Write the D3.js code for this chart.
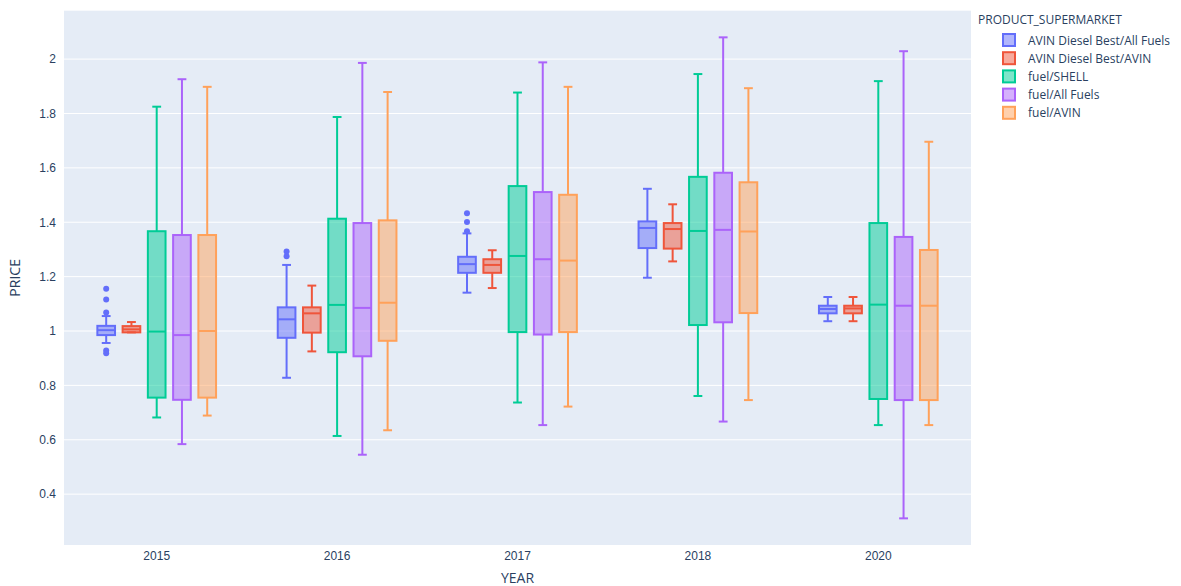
<!DOCTYPE html>
<html>
<head>
<meta charset="utf-8">
<script src="https://cdn.jsdelivr.net/npm/d3@7"></script>
<style>
  body { margin: 0; background: #fff; }
  svg { display: block; font-family: "Open Sans", Verdana, Arial, sans-serif; }
</style>
</head>
<body>
<svg id="chart" width="1181" height="586"></svg>
<script>
// ---------- data ----------
const years = ["2015", "2016", "2017", "2018", "2020"];
const seriesNames = ["AVIN Diesel Best/All Fuels", "AVIN Diesel Best/AVIN", "fuel/SHELL", "fuel/All Fuels", "fuel/AVIN"];
const yTicks = [0.4, 0.6, 0.8, 1, 1.2, 1.4, 1.6, 1.8, 2];

// per series, per year: [lowerFence, q1, median, q3, upperFence]
const dieselAllFuels = [
  [0.956, 0.985, 1.003, 1.019, 1.055],
  [0.828, 0.975, 1.043, 1.087, 1.243],
  [1.141, 1.214, 1.246, 1.273, 1.359],
  [1.196, 1.305, 1.379, 1.403, 1.523],
  [1.036, 1.065, 1.081, 1.093, 1.125]
];
const dieselAvin = [
  [0.995, 0.995, 1.006, 1.018, 1.033],
  [0.925, 0.994, 1.065, 1.087, 1.167],
  [1.158, 1.214, 1.243, 1.264, 1.297],
  [1.256, 1.303, 1.375, 1.397, 1.466],
  [1.036, 1.065, 1.083, 1.093, 1.125]
];
const fuelShell = [
  [0.682, 0.755, 0.998, 1.367, 1.825],
  [0.614, 0.922, 1.096, 1.413, 1.787],
  [0.737, 0.996, 1.276, 1.533, 1.877],
  [0.761, 1.022, 1.368, 1.567, 1.945],
  [0.654, 0.750, 1.097, 1.397, 1.919]
];
const fuelAllFuels = [
  [0.584, 0.747, 0.985, 1.353, 1.926],
  [0.545, 0.907, 1.085, 1.397, 1.986],
  [0.654, 0.987, 1.264, 1.511, 1.988],
  [0.667, 1.032, 1.372, 1.582, 2.080],
  [0.311, 0.746, 1.093, 1.346, 2.029]
];
const fuelAvin = [
  [0.689, 0.755, 1.000, 1.353, 1.898],
  [0.635, 0.964, 1.104, 1.407, 1.879],
  [0.722, 0.996, 1.259, 1.501, 1.898],
  [0.746, 1.066, 1.366, 1.547, 1.893],
  [0.654, 0.746, 1.093, 1.298, 1.696]
];
// outliers of the first series, per year
const dieselAllFuelsOutliers = [
  [1.155, 1.116, 1.068, 0.928, 0.918],
  [1.292, 1.275],
  [1.433, 1.401, 1.367],
  [],
  []
];
const noOutliers = [[], [], [], [], []];

const seriesStats = [dieselAllFuels, dieselAvin, fuelShell, fuelAllFuels, fuelAvin];
const seriesOutliers = [dieselAllFuelsOutliers, noOutliers, noOutliers, noOutliers, noOutliers];
const colors = ["#636efa", "#EF553B", "#00cc96", "#ab63fa", "#FFA15A"];

// ---------- layout ----------
const svg = d3.select("#chart");
const plot = { left: 64, right: 971, top: 10.7, bottom: 545 };

const x = d3.scaleBand().domain(years).range([66.5, 968.5]).paddingInner(0.3).paddingOuter(0.15);
const xInner = d3.scaleBand().domain(seriesNames).range([0, x.bandwidth()]).paddingInner(0.3).paddingOuter(0.15);
const y = d3.scaleLinear().domain([0.213, 2.178]).range([plot.bottom, plot.top]);

svg.append("rect")
  .attr("x", plot.left).attr("y", plot.top)
  .attr("width", plot.right - plot.left).attr("height", plot.bottom - plot.top)
  .attr("fill", "#E5ECF6");

// grid
svg.append("g").selectAll("line").data(yTicks).join("line")
  .attr("x1", plot.left).attr("x2", plot.right)
  .attr("y1", d => y(d)).attr("y2", d => y(d))
  .attr("stroke", "#fff").attr("stroke-width", 1);

// y axis
const yAxis = d3.axisLeft(y).tickValues(yTicks).tickSize(0).tickPadding(6).tickFormat(d3.format("~g"));
const gy = svg.append("g").attr("transform", `translate(${plot.left - 2},0)`).call(yAxis);
gy.select(".domain").remove();
gy.selectAll("text").attr("fill", "#2a3f5f").style("font-size", "12px");

// x axis
const xAxis = d3.axisBottom(x.copy().paddingInner(0).paddingOuter(0).range([66.5, 968.5])).tickSize(0).tickPadding(6);
const gx = svg.append("g").attr("transform", `translate(0,${plot.bottom})`).call(xAxis);
gx.select(".domain").remove();
gx.selectAll("text").attr("fill", "#2a3f5f").style("font-size", "12px");

// axis titles
svg.append("text").attr("x", (plot.left + plot.right) / 2).attr("y", 583)
  .attr("text-anchor", "middle").attr("fill", "#2a3f5f").style("font-size", "14px").text("YEAR");
svg.append("text").attr("transform", `translate(20,${(plot.top + plot.bottom) / 2}) rotate(-90)`)
  .attr("text-anchor", "middle").attr("fill", "#2a3f5f").style("font-size", "14px").text("PRICE");

// boxes
const boxesG = svg.append("g");
seriesNames.forEach((name, si) => {
  const col = colors[si];
  const g = boxesG.append("g");
  years.forEach((yr, yi) => {
    const s = seriesStats[si][yi];
    const x0 = x(yr) + xInner(name);
    const w = xInner.bandwidth();
    const cx = x0 + w / 2;
    const capW = w * 0.5;
    // whiskers
    g.append("line").attr("x1", cx).attr("x2", cx).attr("y1", y(s[0])).attr("y2", y(s[1]))
      .attr("stroke", col).attr("stroke-width", 2);
    g.append("line").attr("x1", cx).attr("x2", cx).attr("y1", y(s[3])).attr("y2", y(s[4]))
      .attr("stroke", col).attr("stroke-width", 2);
    g.append("line").attr("x1", cx - capW / 2).attr("x2", cx + capW / 2).attr("y1", y(s[0])).attr("y2", y(s[0]))
      .attr("stroke", col).attr("stroke-width", 2);
    g.append("line").attr("x1", cx - capW / 2).attr("x2", cx + capW / 2).attr("y1", y(s[4])).attr("y2", y(s[4]))
      .attr("stroke", col).attr("stroke-width", 2);
    // box
    g.append("rect").attr("x", x0).attr("width", w)
      .attr("y", y(s[3])).attr("height", y(s[1]) - y(s[3]))
      .attr("fill", col).attr("fill-opacity", 0.5)
      .attr("stroke", col).attr("stroke-width", 2);
    // median
    g.append("line").attr("x1", x0).attr("x2", x0 + w).attr("y1", y(s[2])).attr("y2", y(s[2]))
      .attr("stroke", col).attr("stroke-width", 2);
    // outliers
    g.selectAll(null).data(seriesOutliers[si][yi]).join("circle")
      .attr("cx", cx).attr("cy", d => y(d)).attr("r", 3).attr("fill", col);
  });
});

// legend
const legend = svg.append("g").attr("transform", "translate(978,0)");
legend.append("text").attr("x", 0).attr("y", 24).attr("fill", "#2a3f5f").style("font-size", "12px").text("PRODUCT_SUPERMARKET");
seriesNames.forEach((name, i) => {
  const gy0 = 40 + i * 18.2;
  const it = legend.append("g").attr("transform", `translate(0,${gy0})`);
  it.append("rect").attr("x", 25).attr("y", -6).attr("width", 12).attr("height", 12)
    .attr("fill", colors[i]).attr("fill-opacity", 0.5).attr("stroke", colors[i]).attr("stroke-width", 2);
  it.append("text").attr("x", 50).attr("y", 4.5).attr("fill", "#2a3f5f").style("font-size", "12px").text(name);
});
</script>
</body>
</html>
